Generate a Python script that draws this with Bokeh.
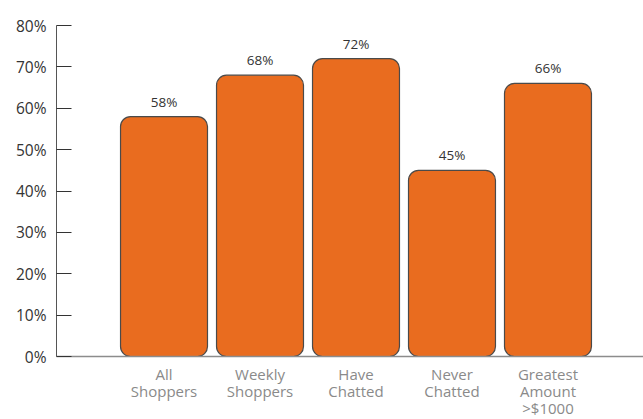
from bokeh.plotting import figure
from bokeh.models import Range1d, FixedTicker, ColumnDataSource, PrintfTickFormatter
from bokeh.core.properties import value
from bokeh.embed import file_html
from bokeh.resources import INLINE

categories = ["All\nShoppers", "Weekly\nShoppers", "Have\nChatted", "Never\nChatted", "Greatest\nAmount\n>$1000"]
values = [58, 68, 72, 45, 66]
labels = [f"{v}%" for v in values]
y_ticks = [0, 10, 20, 30, 40, 50, 60, 70, 80]

xs = [i + 0.5 for i in range(len(categories))]
src = ColumnDataSource(dict(x=xs, top=values, label=labels))

p = figure(frame_width=587, frame_height=331, output_backend="svg", toolbar_location=None,
           x_range=Range1d(-0.62, 5.495), y_range=Range1d(0, 80),
           min_border_left=56, min_border_top=25, min_border_right=0, min_border_bottom=10)
p.outline_line_color = None
p.xgrid.grid_line_color = None
p.ygrid.grid_line_color = None

p.vbar(x="x", top="top", bottom=0, width=0.906, source=src, fill_color="#E96C1F",
       line_color="#4a4a4a", line_width=1.2, border_radius=10)
p.text(x="x", y="top", text="label", source=src, text_align="center", text_baseline="bottom",
       y_offset=-6, text_font=value("Open Sans"), text_font_size="13.5px", text_color="#333333")

ya = p.yaxis[0]
ya.ticker = FixedTicker(ticks=y_ticks)
ya.formatter = PrintfTickFormatter(format="%d%%")
ya.major_tick_in = 15
ya.major_tick_out = 0
ya.minor_tick_line_color = None
ya.major_tick_line_color = "#333333"
ya.axis_line_color = "#555555"
ya.major_label_standoff = 10
ya.major_label_text_font = "Open Sans"
ya.major_label_text_font_size = "15.5px"
ya.major_label_text_color = "#333333"

xa = p.xaxis[0]
xa.ticker = FixedTicker(ticks=xs)
xa.major_label_overrides = {x: c for x, c in zip(xs, categories)}
xa.major_tick_line_color = None
xa.minor_tick_line_color = None
xa.axis_line_color = "#8c8c8c"
xa.axis_line_width = 1.6
xa.major_label_standoff = 1
xa.major_label_text_font = "Open Sans"
xa.major_label_text_font_size = "15px"
xa.major_label_text_color = "#8a8a8a"
xa.major_label_text_line_height = 0.85

open("out.html", "w").write(file_html(p, INLINE))
